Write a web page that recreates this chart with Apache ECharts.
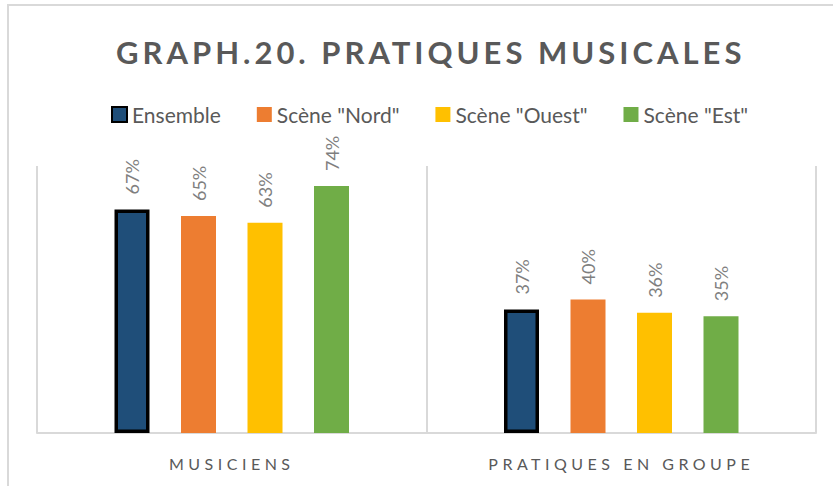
<!DOCTYPE html>
<html>
<head>
<meta charset="utf-8">
<script src="https://cdn.jsdelivr.net/npm/echarts@6/dist/echarts.min.js"></script>
<style>
  html, body { margin: 0; padding: 0; background: #fff; }
  #main { width: 833px; height: 486px; }
</style>
</head>
<body>
<div id="main"></div>
<script>
var categories = ['MUSICIENS', 'PRATIQUES EN GROUPE'];
var seriesNames = ['Ensemble', 'Scène "Nord"', 'Scène "Ouest"', 'Scène "Est"'];
var ensemble = [67, 37];
var nord = [65, 40];
var ouest = [63, 36];
var est = [74, 35];
var colors = ['#1F4E79', '#ED7D31', '#FFC000', '#70AD47'];
var titleText = 'GRAPH.20. PRATIQUES MUSICALES';

var chart = echarts.init(document.getElementById('main'), null, { renderer: 'svg' });

var values = [ensemble, nord, ouest, est];
var series = [];
for (var i = 0; i < values.length; i++) {
  series.push({
    name: seriesNames[i],
    type: 'bar',
    data: values[i],
    barWidth: 35,
    barGap: '90%',
    itemStyle: i === 0 ? { color: colors[i], borderColor: '#000', borderWidth: 3.5 } : { color: colors[i] },
    label: {
      show: true,
      position: 'top',
      rotate: 90,
      align: 'left',
      verticalAlign: 'middle',
      distance: 15,
      formatter: '{c}%',
      color: '#7f7f7f',
      fontFamily: 'Lato',
      fontSize: 18
    }
  });
}

var option = {
  backgroundColor: '#fff',
  animation: false,
  title: {
    text: titleText,
    left: 111,
    top: 31,
    textStyle: { fontFamily: 'Lato', fontWeight: 'bold', fontSize: 31, color: '#595959' }
  },
  legend: {
    data: seriesNames,
    icon: 'rect',
    top: 99,
    left: 106,
    itemWidth: 15,
    itemHeight: 15,
    itemGap: 36,
    textStyle: { fontFamily: 'Lato', fontSize: 21, color: '#595959' }
  },
  grid: { left: 37, right: 17, top: 166, bottom: 53 },
  xAxis: {
    type: 'category',
    data: categories,
    axisLine: { lineStyle: { color: '#d9d9d9', width: 2 } },
    axisTick: { show: false },
    splitLine: { show: true, lineStyle: { color: '#d9d9d9', width: 2 } },
    axisLabel: { fontFamily: 'Lato', fontSize: 16, color: '#595959', margin: 22 }
  },
  yAxis: {
    type: 'value',
    min: 0,
    max: 80,
    show: false
  },
  graphic: [{
    type: 'rect',
    shape: { x: 8, y: 5, width: 840, height: 500 },
    style: { fill: 'none', stroke: '#d9d9d9', lineWidth: 2 },
    silent: true
  }],
  series: series
};
chart.setOption(option);

// spread the letters of the title and category labels as in the original
function spread() {
  var texts = document.querySelectorAll('#main svg text');
  texts.forEach(function (t) {
    var s = t.textContent;
    if (s === titleText) t.style.letterSpacing = '4px';
    else if (categories.indexOf(s) >= 0) t.style.letterSpacing = '4.5px';
  });
}
chart.on('finished', spread);
spread();
</script>
</body>
</html>
